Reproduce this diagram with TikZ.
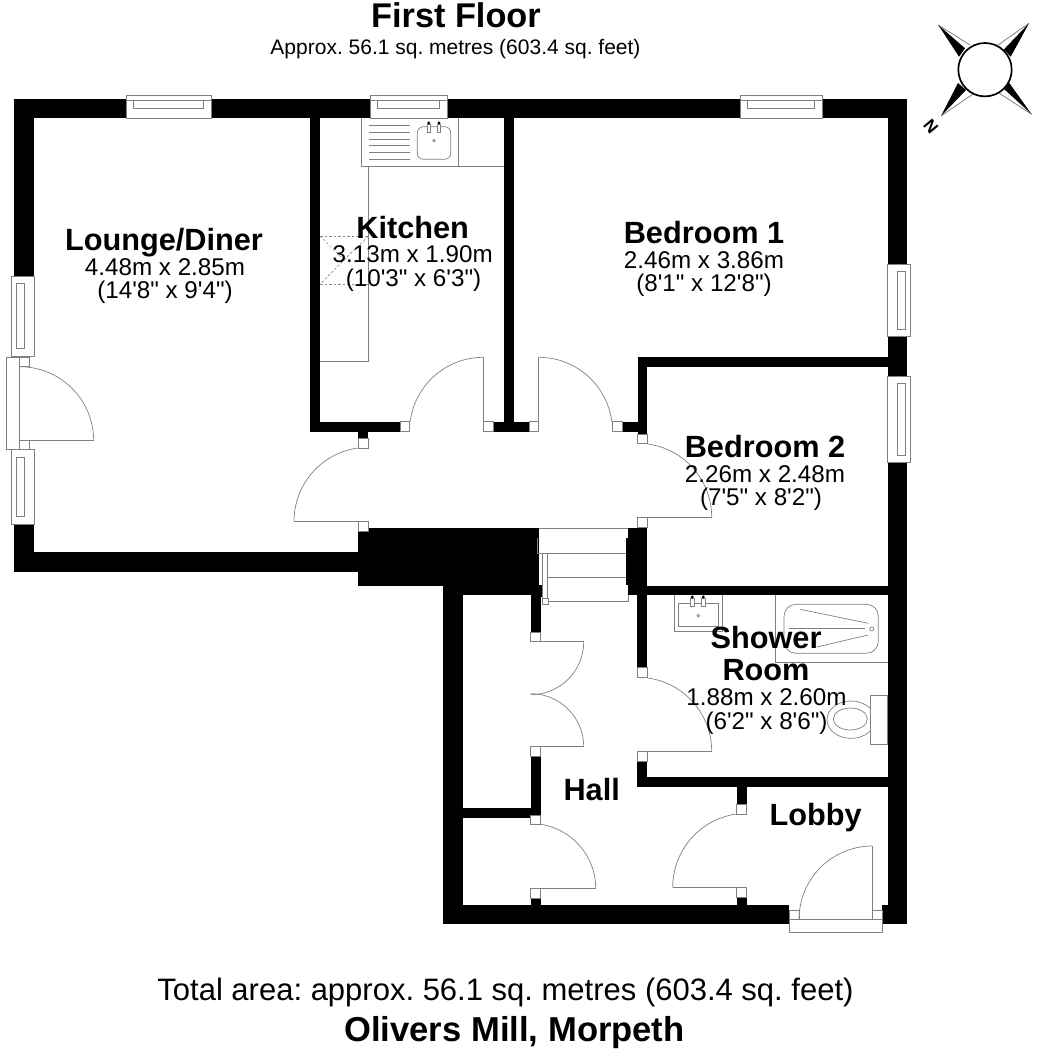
\documentclass[tikz,border=0pt]{standalone}
\usepackage{fontspec}
\setmainfont{Liberation Sans}[Ligatures=TeXOff]
\frenchspacing
\tikzset{
  wall/.style={fill=black,draw=none},
  thin line/.style={draw=black!50,line width=0.7pt},
  jamb/.style={fill=white,draw=black!50,line width=0.7pt},
  frame/.style={fill=white,draw=black!50,line width=0.7pt},
  dashline/.style={draw=black!45,line width=0.7pt,dash pattern=on 2.5pt off 2pt},
  roomname/.style={anchor=base,inner sep=0pt,font=\bfseries\fontsize{30.7}{30.7}\selectfont},
  dims/.style={anchor=base,inner sep=0pt,font=\fontsize{24.2}{24.2}\selectfont},
}
\newcommand{\doorarc}[5]{\draw[thin line] plot[domain=#4:#5,samples=40,smooth] ({#1+#3*cos(\x)},{#2-#3*sin(\x)});}
\newcommand{\wallbox}[4]{\fill[wall] (#1,#2) rectangle (#3,#4);}
\newcommand{\jambbox}[2]{\filldraw[jamb] (#1,#2) rectangle ++(9.7,9.7);}
\newcommand{\topwindow}[2]{%
  \filldraw[frame] (#1,95.7) rectangle (#2,118);
  \filldraw[frame] ({#1+7},100.7) rectangle ({#2-8},108);
  \draw[thin line] (#1,100.7) -- (#2,100.7);}
\newcommand{\sidewindow}[6]{% outer x1 y1 x2 y2, inner x1 x2
  \filldraw[frame] (#1,#2) rectangle (#3,#4);
  \filldraw[frame] (#5,{#2+7.5}) rectangle (#6,{#4-7.5});}
\newcommand{\tap}[2]{%
  \filldraw[frame] ({#1-1.6},{#2+2}) rectangle ({#1+1.6},{#2+10});
  \fill[black] (#1,{#2+1}) circle (1.6pt);}
\begin{document}
\begin{tikzpicture}[x=1pt,y=-1pt]
\useasboundingbox (0,0) rectangle (1040,1049);
% outer and inner walls
\wallbox{14}{98.7}{907.3}{118}
\wallbox{14}{98.7}{34}{276}
\wallbox{14}{355}{34}{357}
\wallbox{14}{524}{34}{572}
\wallbox{14}{552}{358.3}{572}
\wallbox{887.7}{98.7}{907.3}{924}
\wallbox{310}{118}{320}{431.7}
\wallbox{310}{421.7}{400}{431.7}
\wallbox{504}{118}{513.7}{431.7}
\wallbox{493}{421.7}{529}{431.7}
\wallbox{622}{421.7}{637.7}{431.7}
\wallbox{637.7}{357}{647.3}{434}
\wallbox{637.7}{357}{890}{367}
\wallbox{358.3}{431.7}{368}{438.3}
\wallbox{358.3}{528.3}{539}{586}
\wallbox{443.3}{586}{530.7}{595}
\wallbox{530.7}{585}{542.7}{597}
\wallbox{530.7}{595}{540.7}{632.3}
\wallbox{530.7}{756.3}{540.7}{815}
\wallbox{530.7}{898}{540.7}{905}
\wallbox{463}{808.3}{530.7}{818.3}
\wallbox{443.3}{586}{463.3}{924.3}
\wallbox{443.3}{905}{789.3}{924.3}
\wallbox{882.3}{905}{890}{924.3}
\wallbox{628.3}{528.3}{647.3}{595}
\wallbox{625.7}{538}{628.3}{585}
\wallbox{628}{585.7}{890}{595.3}
\wallbox{637.3}{595}{647.3}{667.7}
\wallbox{637.3}{761}{647.3}{787.3}
\wallbox{637.3}{777.3}{890}{787.3}
\wallbox{736.7}{787}{746.7}{804.3}
\wallbox{736.7}{897}{746.7}{905}
% windows
\topwindow{126}{211}
\topwindow{370.7}{447}
\topwindow{740}{822}
\sidewindow{11.7}{276}{34}{356}{16}{24}
\sidewindow{11.7}{449.6}{34}{524}{16}{24}
\sidewindow{887.7}{264.3}{910.7}{336.7}{897.3}{905}
\sidewindow{887.7}{376}{910.7}{462.7}{897.3}{905}
% external doors
\filldraw[frame] (6.7,357) rectangle (19.7,449.6);
\filldraw[jamb] (19.7,357) rectangle (29.3,366.7);
\filldraw[jamb] (19.7,440.7) rectangle (29.3,449.6);
\draw[thin line] (19.7,440.7) -- (93.7,440.7);
\doorarc{19.7}{440.7}{74}{0}{90}
\filldraw[frame] (789.3,919.3) rectangle (882.3,932.3);
\jambbox{789.3}{910}
\jambbox{872.5}{910}
\draw[thin line] (872.3,919.3) -- (872.3,846);
\doorarc{872.3}{919.3}{73.3}{90}{180}
% door jambs
\jambbox{400}{421.7}
\jambbox{483.3}{421.7}
\jambbox{529}{421.7}
\jambbox{612.7}{421.7}
\jambbox{358.3}{438.3}
\jambbox{358.3}{521.3}
\jambbox{637.7}{434}
\jambbox{637.7}{517.3}
\jambbox{637.5}{667.7}
\jambbox{637.5}{751.3}
\jambbox{530.8}{632}
\jambbox{530.8}{746.7}
\jambbox{530.8}{815}
\jambbox{530.8}{888.3}
\jambbox{736.8}{804.3}
\jambbox{736.8}{887.3}
% door leaves and swings
\draw[thin line] (483.3,421.7) -- (483.3,357);
\doorarc{483.3}{431}{73.7}{90}{172.7}
\draw[thin line] (538.7,421.7) -- (538.7,357);
\doorarc{538.7}{431}{73.7}{7.3}{90}
\draw[thin line] (358.3,521.3) -- (294,521.3);
\doorarc{368}{521.3}{74}{98}{180}
\draw[thin line] (647.3,517.3) -- (711.7,517.3);
\doorarc{637.7}{517.3}{74}{0}{82.5}
\draw[thin line] (647.3,751.3) -- (711.7,751.3);
\doorarc{637.7}{751.3}{74}{0}{82.5}
\draw[thin line] (540.7,641.7) -- (583.7,641.7);
\doorarc{530.7}{641.7}{53}{-90}{0}
\draw[thin line] (540.7,746.7) -- (583.7,746.7);
\doorarc{530.7}{746.7}{53}{0}{90}
\draw[thin line] (540.7,888.3) -- (595.7,888.3);
\doorarc{531}{888.3}{64.7}{0}{81}
\draw[thin line] (736.7,887.3) -- (672.7,887.3);
\doorarc{746.7}{887.3}{74}{98}{180}
% stairs
\draw[thin line] (539,528.3) -- (628.3,528.3);
\draw[thin line] (537.7,538) -- (537.7,553) -- (626,553);
\draw[thin line] (547.7,577.3) -- (626,577.3);
\draw[thin line] (547.7,601.7) -- (628.7,601.7) -- (628.7,595);
\draw[thin line] (542.3,553) -- (542.3,598);
\draw[thin line] (547.7,553) -- (547.7,598);
\filldraw[jamb] (542.3,598) rectangle (548,604.3);
% kitchen fittings
\draw[thin line] (361,118) -- (361,166.7) -- (504,166.7);
\draw[thin line] (458.3,118) -- (458.3,166.7);
\draw[thin line] (368.7,166.7) -- (368.7,361.7) -- (320,361.7);
\foreach \yy in {125.7,132.4,139.1,145.8,152.5,159.2}
  \draw[thin line] (369,\yy) -- (410,\yy);
\draw[thin line,rounded corners=6pt] (417.3,126.7) rectangle (450.7,159.3);
\tap{428.7}{122}
\tap{439}{122}
\draw[thin line] (434,140.7) circle (1.3pt);
\draw[dashline] (320,236) -- (368.7,236);
\draw[dashline] (320,284.3) -- (368.7,284.3);
\draw[dashline] (320,236) -- (344,260) -- (320,284.3);
\draw[dashline] (344,260) -- (368.7,236);
% shower room fittings
\draw[thin line] (674,595.3) -- (674,631) -- (722.3,631) -- (722.3,595.3);
\draw[thin line] (678.7,603.3) rectangle (718,626);
\tap{692.3}{596}
\tap{703.3}{596}
\draw[thin line] (698.3,615.7) circle (1.3pt);
\draw[thin line] (775,595.3) -- (775,662.7) -- (887.7,662.7);
\draw[thin line,rounded corners=12pt] (784,604.3) rectangle (878.3,653.3);
\draw[thin line] (800,609.3) -- (868.3,623.3);
\draw[thin line] (789.3,628.7) -- (865,628.7);
\draw[thin line] (816.7,647) -- (868,635);
\draw[thin line] (871.7,629) circle (2pt);
\draw[thin line] (851,719.7) ellipse (24pt and 18.7pt);
\filldraw[frame] (870.3,695.7) rectangle (887.7,744.3);
\draw[thin line] (850.3,719) ellipse (17pt and 11pt);
% compass
\draw[black!55,line width=0.7pt] (938.3,25) -- (970,45);
\draw[black!55,line width=0.7pt] (1029,23.3) -- (998,45);
\draw[black!55,line width=0.7pt] (941,116) -- (972.7,94.3);
\draw[black!55,line width=0.7pt] (1031.7,114.3) -- (999.3,93.3);
\fill[black] (938.3,25) -- (959,56.7) -- (965,48.3) -- cycle;
\fill[black] (1029,23.3) -- (1004,49.3) -- (1010.7,56.7) -- cycle;
\fill[black] (941,116) -- (958,83) -- (966,90) -- cycle;
\fill[black] (1031.7,114.3) -- (1008.3,81.7) -- (1003.3,88.3) -- cycle;
\filldraw[fill=white,draw=black,line width=1.7pt] (985,69.7) circle (26.7pt);
\node[anchor=center,inner sep=0pt,rotate=130,font=\bfseries\fontsize{17}{17}\selectfont] (north) at (931,126.5) {N};
% labels
\node[anchor=base,inner sep=0pt,font=\bfseries\fontsize{34.3}{34.3}\selectfont] (title) at (456,28) {First Floor};
\node[anchor=base,inner sep=0pt,font=\fontsize{21}{21}\selectfont] (approx) at (455.5,55) {Approx. 56.1 sq. metres (603.4 sq. feet)};
\node[roomname] (lounge) at (164,250) {Lounge/Diner};
\node[dims] (lounged) at (165,275) {4.48m x 2.85m};
\node[dims] (loungei) at (165,298.5) {(14'8" x 9'4")};
\node[roomname] (kitchen) at (412.7,238.3) {Kitchen};
\node[dims] (kitchend) at (412.7,262.7) {3.13m x 1.90m};
\node[dims] (kitcheni) at (413.5,286.5) {(10'3" x 6'3")};
\node[roomname] (bedone) at (704,243) {Bedroom 1};
\node[dims] (bedoned) at (704,268) {2.46m x 3.86m};
\node[dims] (bedonei) at (704,291.5) {(8'1" x 12'8")};
\node[roomname] (bedtwo) at (765,457) {Bedroom 2};
\node[dims] (bedtwod) at (765,482) {2.26m x 2.48m};
\node[dims] (bedtwoi) at (761,505.5) {(7'5" x 8'2")};
\node[roomname] (shower) at (766,648.3) {Shower};
\node[roomname] (room) at (766,680) {Room};
\node[dims] (showerd) at (766.5,705) {1.88m x 2.60m};
\node[dims] (showeri) at (766.5,729) {(6'2" x 8'6")};
\node[roomname] (hall) at (591.7,800) {Hall};
\node[roomname] (lobby) at (815.7,825) {Lobby};
\node[anchor=base,inner sep=0pt,font=\fontsize{31}{31}\selectfont] (total) at (505.5,1000) {Total area: approx. 56.1 sq. metres (603.4 sq. feet)};
\node[anchor=base,inner sep=0pt,font=\bfseries\fontsize{34.6}{34.6}\selectfont] (mill) at (514.5,1041) {Olivers Mill, Morpeth};
\end{tikzpicture}
\end{document}
